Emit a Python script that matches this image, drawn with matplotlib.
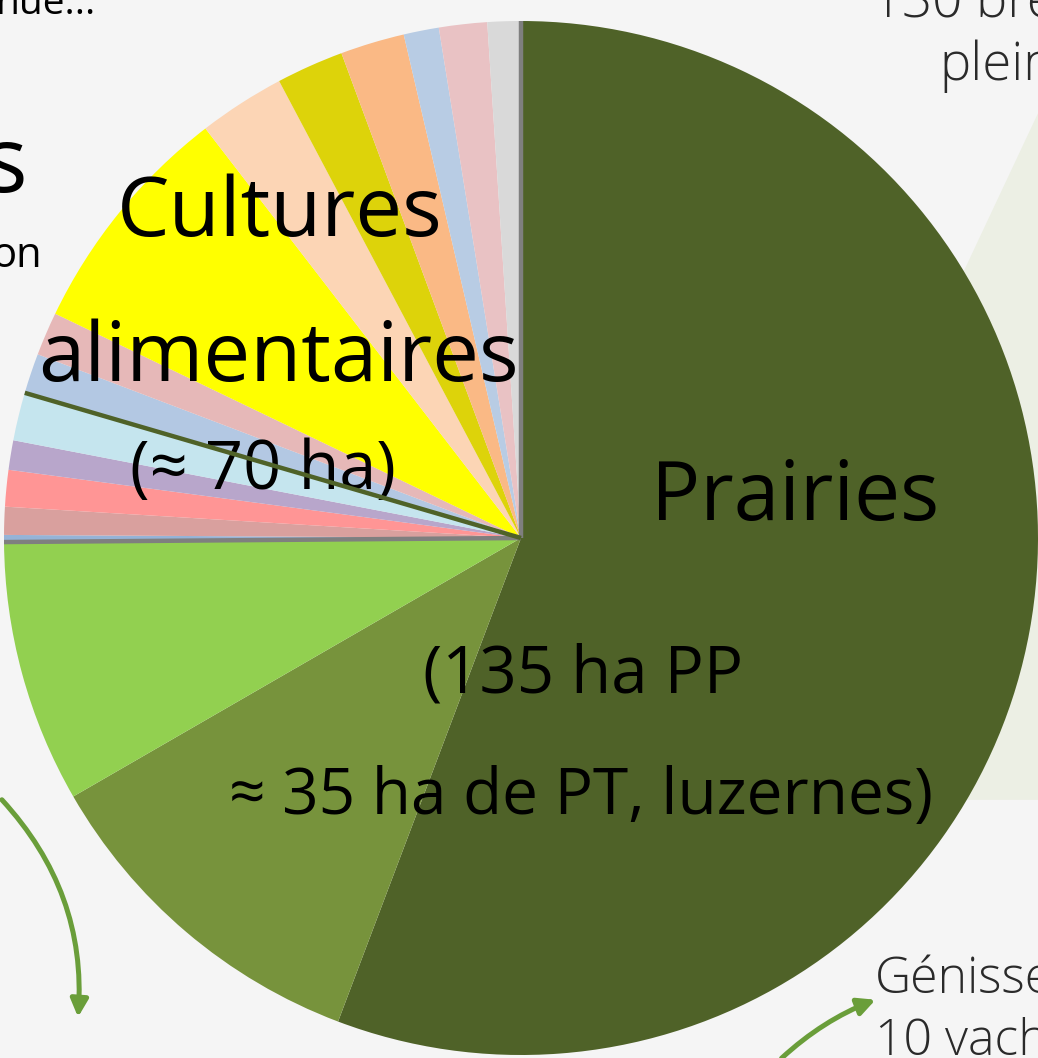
import matplotlib.pyplot as plt
from matplotlib.patches import Polygon, FancyArrowPatch

# parts de la SAU (en %), dans l'ordre du camembert (sens horaire depuis midi)
# les 0 sont des postes vides, visibles seulement par leur bordure
parts = [0, 55.7, 10.9, 8.2, 0, 0.22, 0.87, 1.14, 0.92, 1.5,
         0, 1.25, 1.36, 7.4, 2.7, 2.1, 2.0, 1.1, 1.5, 1.04]
couleurs = ['#7F7F7F', '#4F6228', '#77933C', '#92D050', '#7F7F7F', '#95B3D7',
            '#D9A09E', '#FF9595', '#B8A6CB', '#C5E5EE', '#4F6228', '#B3C8E3',
            '#E6B8B8', '#FFFF00', '#FCD5B5', '#DDD30A', '#FAB985', '#B8CCE4',
            '#E9C2C4', '#D9D9D9']

fig = plt.figure(figsize=(10.38, 10.58), dpi=100)
fig.patch.set_facecolor('#F5F5F5')

# forme vert pâle à droite (fond de la diapo), derrière le camembert
fond = Polygon([(1.0, 0.893), (0.92, 0.726), (0.92, 0.244), (1.0, 0.244)],
               closed=True, transform=fig.transFigure, facecolor='#ECEFE4',
               edgecolor='none', zorder=-1)
fig.patches.append(fond)

# axes carré en pixels : centre (521, 538), rayon 517
cx, cy, r = 521, 538, 517
W, H = 1038, 1058
ax = fig.add_axes([(cx - r) / W, (H - cy - r) / H, 2 * r / W, 2 * r / H])

wedges, _ = ax.pie(parts, colors=couleurs, startangle=90, counterclock=False,
                   radius=1, wedgeprops=dict(linewidth=0, edgecolor='none'))
for w, v, c in zip(wedges, parts, couleurs):
    if v == 0:
        w.set_edgecolor(c)
        w.set_linewidth(3.2)
        w.set_zorder(5)

ax.set_xlim(-1, 1)
ax.set_ylim(-1, 1)
ax.axis('off')

police = 'Open Sans'
ax.text(-0.466, 0.625, 'Cultures', fontsize=60, family=police, ha='center', va='center')
ax.text(-0.47, 0.345, 'alimentaires', fontsize=60, family=police, ha='center', va='center')
ax.text(-0.5, 0.13, '(≈ 70 ha)', fontsize=48, family=police, ha='center', va='center')
ax.text(0.53, 0.075, 'Prairies', fontsize=59, family=police, ha='center', va='center')
ax.text(0.12, -0.265, '(135 ha PP', fontsize=47, family=police, ha='center', va='center')
ax.text(0.117, -0.5, '≈ 35 ha de PT, luzernes)', fontsize=46, family=police,
        ha='center', va='center')

# textes de la diapo autour du graphique (coupés par le bord)
fig.text(-0.004, 0.987, 'nue...', fontsize=28, family=police, va='baseline')
fig.text(-0.016, 0.841, 's', fontsize=66, family=police, va='center')
fig.text(-0.008, 0.758, 'on', fontsize=30, family=police, va='center')
fig.text(0.84, 0.984, '130 bre', fontsize=38, family=police, va='baseline',
         color='#2A2A2A', fontweight='light')
fig.text(0.905, 0.924, 'plein', fontsize=38, family=police, va='baseline',
         color='#2A2A2A', fontweight='light')
fig.text(0.843, 0.061, 'Génisse', fontsize=36, family=police, va='baseline',
         color='#2A2A2A', fontweight='light')
fig.text(0.843, 0.003, '10 vach', fontsize=36, family=police, va='baseline',
         color='#2A2A2A', fontweight='light')

# flèches vertes
f1 = FancyArrowPatch((0.0, 0.246), (0.075, 0.036), transform=fig.transFigure,
                     connectionstyle='arc3,rad=-0.22', arrowstyle='-|>',
                     mutation_scale=26, color='#6A9E3A', linewidth=3.6)
f2 = FancyArrowPatch((0.751, -0.002), (0.846, 0.056), transform=fig.transFigure,
                     connectionstyle='arc3,rad=-0.1', arrowstyle='-|>',
                     mutation_scale=26, color='#6A9E3A', linewidth=3.6)
fig.patches.extend([f1, f2])

fig.savefig('out.png', dpi=100, facecolor=fig.get_facecolor())
